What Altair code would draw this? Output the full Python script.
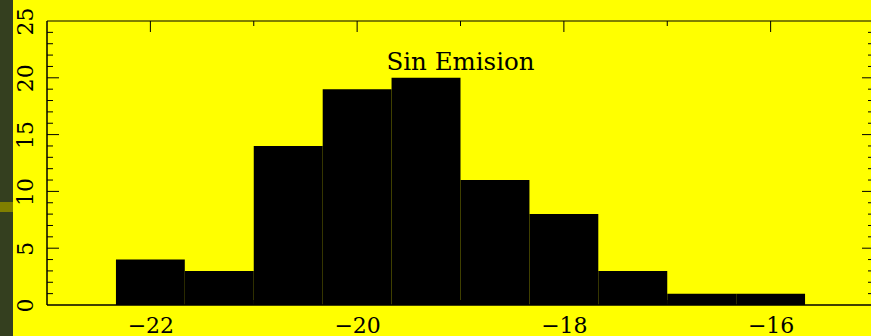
import altair as alt
import pandas as pd

# Histogram bins (left / right edges) and counts
bin_lo = [-22.333, -21.667, -21.0, -20.333, -19.667, -19.0, -18.333, -17.667, -17.0, -16.333]
bin_hi = [-21.667, -21.0, -20.333, -19.667, -19.0, -18.333, -17.667, -17.0, -16.333, -15.667]
counts = [4, 3, 14, 19, 20, 11, 8, 3, 1, 1]

# Axis ticks / labels
x_labels = [-22, -20, -18, -16]
x_major = [-22, -20, -18, -16]
x_minor = [-21, -19, -17]
y_labels = [0, 5, 10, 15, 20, 25]
y_major = [5, 10, 15, 20]
y_minor = [1, 2, 3, 4, 6, 7, 8, 9, 11, 12, 13, 14, 16, 17, 18, 19, 21, 22, 23, 24]

title_text = "Sin Emision"
title_x = -19.0
title_y = 20.7

W, H = 824, 284
XR = 827  # full plot span; the right frame edge falls just past the canvas
FONT = "DejaVu Serif"
BG = "#ffff00"

xscale = alt.Scale(domain=[-23, -15], range=[0, XR], nice=False, zero=False)
yscale = alt.Scale(domain=[0, 25], nice=False, zero=True)

bars_df = pd.DataFrame({"lo": bin_lo, "hi": bin_hi, "n": counts})

bars = alt.Chart(bars_df).mark_rect(color="black").encode(
    x=alt.X("lo:Q", scale=xscale,
            axis=alt.Axis(values=x_labels, format="d", title=None, labelPadding=10,
                          labelFlush=False, labelOverlap=False)),
    x2="hi:Q",
    y=alt.Y("n:Q", scale=yscale,
            axis=alt.Axis(values=y_labels, title=None, labelAngle=270, labelAlign="center",
                          labelBaseline="alphabetic", labelPadding=15,
                          labelFlush=False, labelOverlap=False)),
    y2=alt.datum(0),
)


def xticks(vals, length, top):
    df = pd.DataFrame({"v": vals})
    y0, y1 = (0, length) if top else (H, H - length)
    return alt.Chart(df).mark_rule(color="black", strokeWidth=1).encode(
        x=alt.X("v:Q", scale=xscale), y=alt.value(y0), y2=alt.value(y1))


def yticks(vals, length, left):
    df = pd.DataFrame({"v": vals})
    x0, x1 = (0, length) if left else (XR, XR - length)
    return alt.Chart(df).mark_rule(color="black", strokeWidth=1).encode(
        y=alt.Y("v:Q", scale=yscale), x=alt.value(x0), x2=alt.value(x1))


ticks = [
    xticks(x_major, 11, True), xticks(x_minor, 5, True),
    xticks(x_major, 11, False), xticks(x_minor, 5, False),
    yticks(y_major, 12, True), yticks(y_minor, 6, True),
    yticks(y_major, 12, False), yticks(y_minor, 6, False),
]

frame_src = pd.DataFrame({"k": [0]})
frame_top = alt.Chart(frame_src).mark_rule(color="black", strokeWidth=1).encode(
    y=alt.value(0), x=alt.value(0), x2=alt.value(XR))
frame_bottom = alt.Chart(frame_src).mark_rule(color="black", strokeWidth=1.5).encode(
    y=alt.value(H), x=alt.value(0), x2=alt.value(XR))
frame_left = alt.Chart(frame_src).mark_rule(color="black", strokeWidth=1.5).encode(
    x=alt.value(0), y=alt.value(0), y2=alt.value(H))

# dark side strip at the far left of the canvas
strip = alt.Chart(frame_src).mark_rect(color="#343f1f").encode(
    x=alt.value(-47), x2=alt.value(-34), y=alt.value(-21), y2=alt.value(H + 31))
strip_band = alt.Chart(frame_src).mark_rect(color="#807f00").encode(
    x=alt.value(-47), x2=alt.value(-34), y=alt.value(181), y2=alt.value(191))

label_df = pd.DataFrame({"x": [title_x], "y": [title_y], "t": [title_text]})
label = alt.Chart(label_df).mark_text(
    font=FONT, fontSize=24.5, color="black", align="center", baseline="alphabetic"
).encode(x=alt.X("x:Q", scale=xscale), y=alt.Y("y:Q", scale=yscale), text="t:N")

chart = alt.layer(
    strip, strip_band, *ticks, bars, frame_top, frame_bottom, frame_left, label
).properties(
    width=W, height=H, background=BG,
    padding={"left": 47, "top": 21, "right": 0, "bottom": 31},
    autosize=alt.AutoSizeParams(type="none"),
).configure_view(stroke=None, fill=BG).configure_axis(
    labelFont=FONT, labelFontSize=22, labelColor="black",
    ticks=False, tickSize=0, domain=False, grid=False,
)

chart.save("out.html", embed_options={"renderer": "svg", "actions": False})
